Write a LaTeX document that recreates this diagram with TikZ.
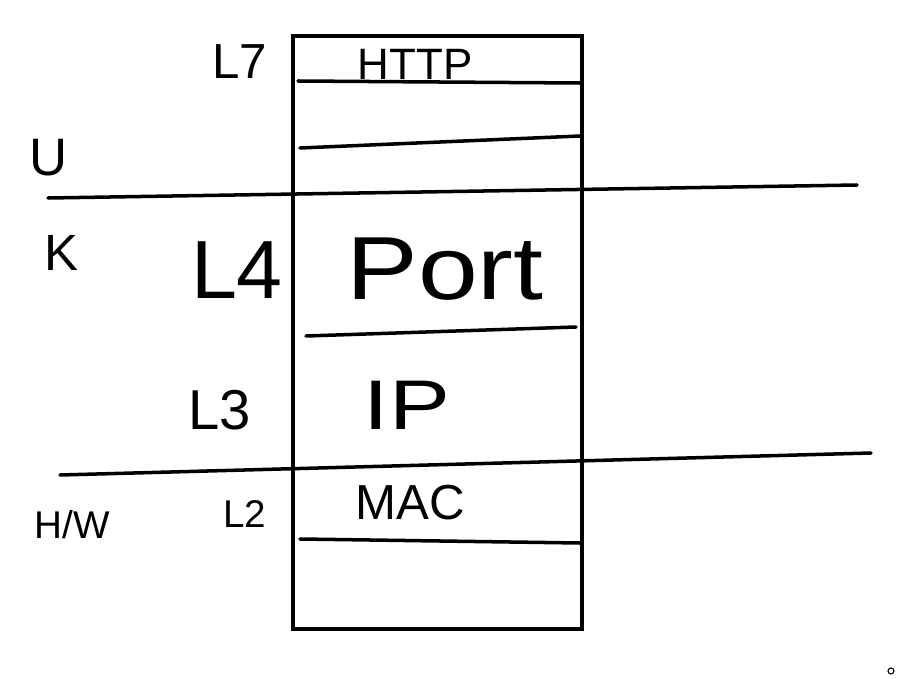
\documentclass[tikz,border=0pt]{standalone}
\usepackage{fontspec}
\setmainfont{Liberation Sans}
\usetikzlibrary{positioning}

\begin{document}
\begin{tikzpicture}[
  x=0.02cm, y=-0.02cm,
  line width=2pt, line cap=round,
  lbl/.style={font=\fontsize{#1pt}{#1pt}\selectfont, inner sep=0pt},
  stroke/.style={draw=black},
]
  \useasboundingbox (0,0) rectangle (914,679);

  % Protocol stack frame
  \draw[stroke] (293,36) rectangle (582,629);

  % Rows inside the stack
  \draw[stroke] (298,81) -- (580,83);
  \draw[stroke] (300,148) -- (580,136);
  \draw[stroke] (306,336) -- (576,327);
  \draw[stroke] (300,539) -- (580,543);

  % Boundaries: user / kernel / hardware
  \draw[stroke] (48,198) -- (857,185);
  \draw[stroke] (60,475) -- (871,453);

  % Layer names
  \node[lbl=28] (l7) at (240,62) {L7};
  \node[lbl=47] (l4) at (237,270) {L4};
  \node[lbl=32] (l3) at (220,410) {L3};
  \node[lbl=22] (l2) at (245,514) {L2};

  % Contents of the stack
  \node[lbl=25] (http) at (415,64) {HTTP};
  \node[lbl=51, xscale=1.2] (port) at (445,269) {Port};
  \node[lbl=40, xscale=1.3] (ip) at (407,405) {IP};
  \node[lbl=28] (mac) at (410,503) {MAC};

  % Space labels
  \node[lbl=30] (user) at (49,158) {U};
  \node[lbl=29] (kern) at (61,253) {K};
  \node[lbl=22] (hw) at (72,525) {H/W};

  % Stray dot
  \draw[line width=0.6pt] (891,671) circle (3);
\end{tikzpicture}
\end{document}
